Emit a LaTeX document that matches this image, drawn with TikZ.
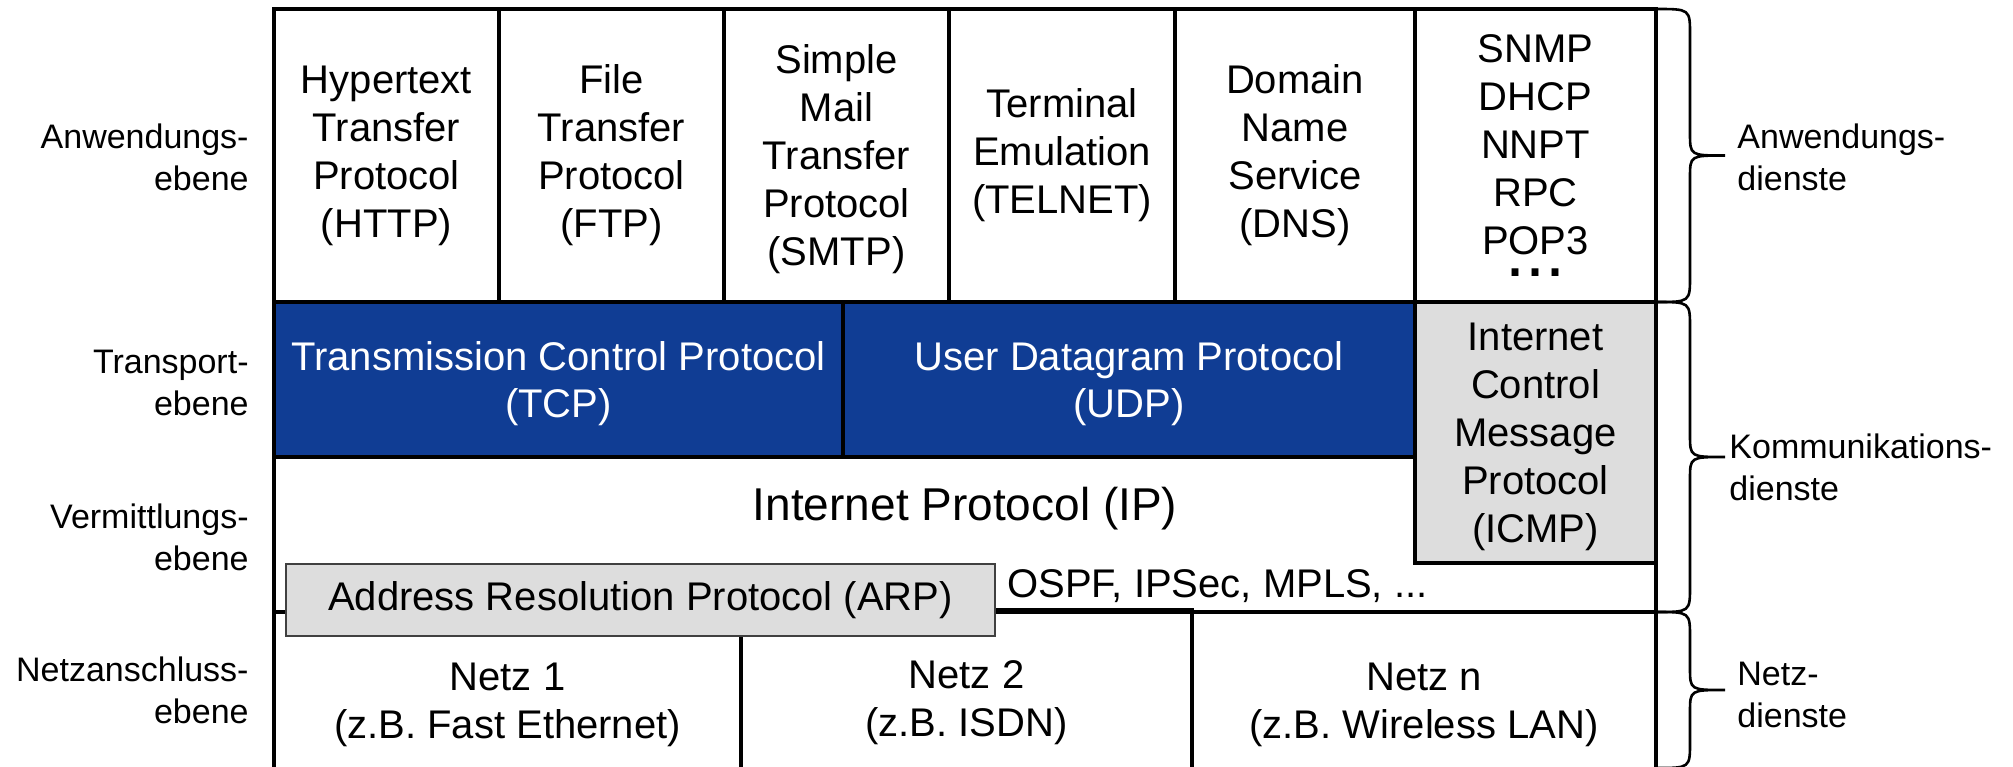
\documentclass[tikz,border=0pt]{standalone}
\usepackage{fontspec}
\setmainfont{Liberation Sans}
\definecolor{tcpblue}{RGB}{16,61,148}
\definecolor{boxgray}{RGB}{221,221,221}
\begin{document}
\begin{tikzpicture}[x=0.5pt,y=-0.5pt,
  cellfont/.style={font=\fontsize{20}{24}\selectfont},
  cell/.style={draw=black, line width=2pt, inner sep=0pt, align=center, cellfont},
  lowtext/.style={text depth=0pt},
  sidelabel/.style={inner sep=0pt, font=\fontsize{17}{21}\selectfont},
  bracket/.style={draw=black, line width=1.3pt}]
\useasboundingbox (0,0) rectangle (2013,766);
\clip (0,0) rectangle (2013,766);

% application layer
\node[cell, minimum width=112.5pt, minimum height=146.5pt] (http) at (386.5,155.5) {Hypertext\\Transfer\\Protocol\\(HTTP)};
\node[cell, minimum width=112.5pt, minimum height=146.5pt] (ftp) at (611.5,155.5) {File\\Transfer\\Protocol\\(FTP)};
\node[cell, lowtext, minimum width=112.5pt, minimum height=146.5pt] (smtp) at (836.5,155.5) {Simple\\Mail\\Transfer\\Protocol\\(SMTP)};
\node[cell, minimum width=113pt, minimum height=146.5pt] (telnet) at (1062,155.5) {Terminal\\Emulation\\(TELNET)};
\node[cell, minimum width=120pt, minimum height=146.5pt] (dns) at (1295,155.5) {Domain\\Name\\Service\\(DNS)};
\node[cell, minimum width=120.5pt, minimum height=146.5pt] (misc) at (1535.5,155.5) {SNMP\\DHCP\\NNPT\\RPC\\POP3\\[-13pt]{\fontsize{36}{24}\selectfont ...}};

% transport layer
\node[cell, lowtext, fill=tcpblue, text=white, minimum width=284.5pt, minimum height=77.5pt] (tcp) at (558.5,379.5) {Transmission Control Protocol\\(TCP)};
\node[cell, lowtext, fill=tcpblue, text=white, minimum width=286pt, minimum height=77.5pt] (udp) at (1129,379.5) {User Datagram Protocol\\(UDP)};

% network layer
\node[cell, minimum width=691pt, minimum height=77.5pt] (iplayer) at (965,534.5) {};
\node[inner sep=0pt, font=\fontsize{23}{27}\selectfont] (ip) at (965,509) {Internet Protocol (IP)};
\node[cell, lowtext, fill=boxgray, minimum width=120.5pt, minimum height=130.5pt] (icmp) at (1535.5,432.5) {Internet\\Control\\Message\\Protocol\\(ICMP)};

% link layer
\node[cell, lowtext, minimum width=233.5pt, minimum height=89pt] (netz1) at (507.5,701) {Netz 1\\(z.B. Fast Ethernet)};
\node[cell, lowtext, minimum width=225.5pt, minimum height=89pt] (netz2) at (966.5,699) {Netz 2\\(z.B. ISDN)};
\node[cell, lowtext, minimum width=232pt, minimum height=89pt] (netzn) at (1424,701) {Netz n\\(z.B. Wireless LAN)};

\node[draw=black!75, line width=1pt, fill=boxgray, inner sep=0pt, cellfont,
      minimum width=354.5pt, minimum height=36pt] (arp) at (640.5,600) {Address Resolution Protocol (ARP)};
\node[anchor=base west, inner sep=0pt, cellfont] (ospf) at (1007,597) {OSPF, IPSec, MPLS, ...};

% layer names on the left (anchored at the baseline of their last line)
\node[sidelabel, anchor=base east, align=right] (lanw) at (249,190) {Anwendungs-\\ebene};
\node[sidelabel, anchor=base east, align=right] (ltra) at (249,415) {Transport-\\ebene};
\node[sidelabel, anchor=base east, align=right] (lver) at (249,570) {Vermittlungs-\\ebene};
\node[sidelabel, anchor=base east, align=right] (lnet) at (249,723) {Netzanschluss-\\ebene};

% braces and service groups on the right
\coordinate (b1) at (1656,9);
\coordinate (b2) at (1656,302);
\coordinate (b3) at (1656,612);
\coordinate (b4) at (1656,768);
\coordinate (t1) at (1725,155.5);
\coordinate (t2) at (1725,457);
\coordinate (t3) at (1725,690);

\path[bracket] (b1) .. controls (1690,9) .. (1690,35) -- (1690,133.5) .. controls (1690,155.5) .. (t1)
               .. controls (1690,155.5) .. (1690,177.5) -- (1690,276) .. controls (1690,302) .. (b2);
\path[bracket] (b2) .. controls (1690,302) .. (1690,328) -- (1690,435) .. controls (1690,457) .. (t2)
               .. controls (1690,457) .. (1690,479) -- (1690,586) .. controls (1690,612) .. (b3);
\path[bracket] (b3) .. controls (1690,612) .. (1690,638) -- (1690,668) .. controls (1690,690) .. (t3)
               .. controls (1690,690) .. (1690,712) -- (1690,742) .. controls (1690,768) .. (b4);

\node[sidelabel, anchor=base west, align=left] (ranw) at (1737,190) {Anwendungs-\\dienste};
\node[sidelabel, anchor=base west, align=left] (rkom) at (1729,500) {Kommunikations-\\dienste};
\node[sidelabel, anchor=base west, align=left] (rnet) at (1737,727) {Netz-\\dienste};
\end{tikzpicture}
\end{document}
